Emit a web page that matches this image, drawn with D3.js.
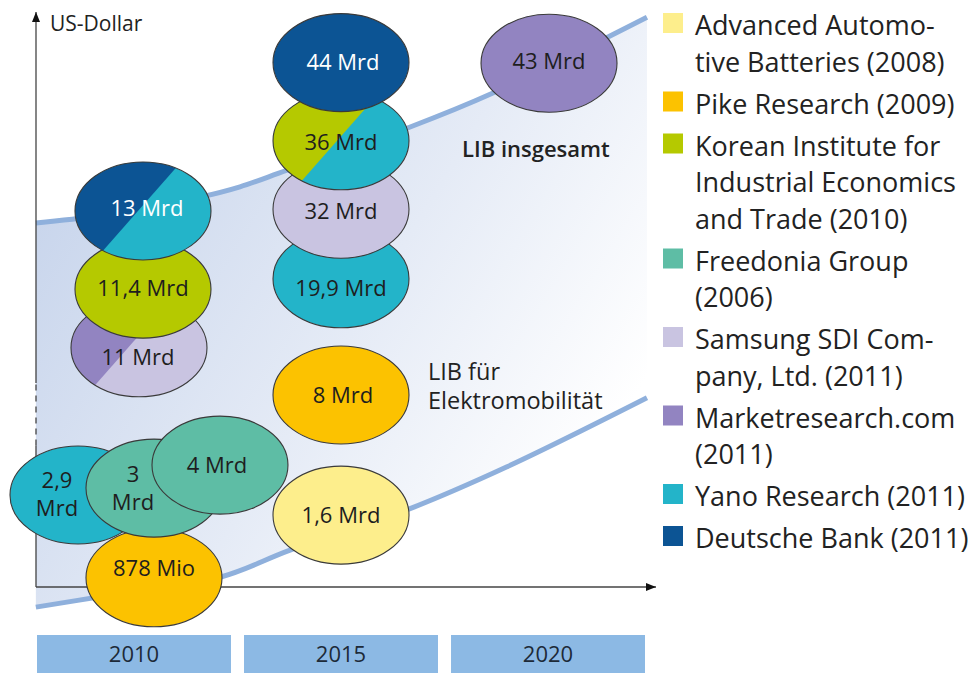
<!DOCTYPE html>
<html>
<head>
<meta charset="utf-8">
<script src="https://cdn.jsdelivr.net/npm/d3@7"></script>
<style>
  body { margin: 0; background: #fff; }
  svg { display: block; font-family: "Open Sans", sans-serif; }
</style>
</head>
<body>
<svg id="chart"></svg>
<script>
// Years along the time axis
var years = [2010, 2015, 2020];

// Forecast sources, in legend order
var sourceKeys = ["aab", "pike", "kiet", "freedonia", "samsung", "market", "yano", "db"];
var sourceLabels = [
  ["Advanced Automo-", "tive Batteries (2008)"],
  ["Pike Research (2009)"],
  ["Korean Institute for", "Industrial Economics", "and Trade (2010)"],
  ["Freedonia Group", "(2006)"],
  ["Samsung SDI Com-", "pany, Ltd. (2011)"],
  ["Marketresearch.com", "(2011)"],
  ["Yano Research (2011)"],
  ["Deutsche Bank (2011)"]
];
var sourceColors = ["#fdee8c", "#fcc200", "#b5c900", "#5ebda5", "#c9c4e1", "#9284c1", "#23b4c9", "#0c5494"];

// Market estimates per year (drawn bottom to top)
var estimates = [
  { year: 2010, label: ["878 Mio"], sources: ["pike"] },
  { year: 2010, label: ["2,9", "Mrd"], sources: ["yano"] },
  { year: 2010, label: ["3", "Mrd"], sources: ["freedonia"] },
  { year: 2010, label: ["4 Mrd"], sources: ["freedonia"] },
  { year: 2010, label: ["11 Mrd"], sources: ["market", "samsung"] },
  { year: 2010, label: ["11,4 Mrd"], sources: ["kiet"] },
  { year: 2010, label: ["13 Mrd"], sources: ["db", "yano"] },
  { year: 2015, label: ["1,6 Mrd"], sources: ["aab"] },
  { year: 2015, label: ["8 Mrd"], sources: ["pike"] },
  { year: 2015, label: ["19,9 Mrd"], sources: ["yano"] },
  { year: 2015, label: ["32 Mrd"], sources: ["samsung"] },
  { year: 2015, label: ["36 Mrd"], sources: ["kiet", "yano"] },
  { year: 2015, label: ["44 Mrd"], sources: ["db"] },
  { year: 2020, label: ["43 Mrd"], sources: ["market"] }
];

// Placement of each estimate: shift from year centre, height level (0-100),
// label nudge and where the colour split runs
var placement = [
  { dx: 20, level: 1.6, tx: 0, ty: -10 },
  { dx: -56, level: 16.0, tx: -21, ty: -1 },
  { dx: 20, level: 17.2, tx: -21, ty: 0 },
  { dx: 86, level: 21.2, tx: -3, ty: 0 },
  { dx: 5, level: 41.6, tx: -1, ty: 9, split: -11 },
  { dx: 9, level: 51.8, tx: 0, ty: -1 },
  { dx: 9, level: 65.4, tx: 4, ty: -3, split: -5 },
  { dx: 0, level: 12.5, tx: 0, ty: 0 },
  { dx: 0, level: 33.4, tx: 2, ty: 0 },
  { dx: 0, level: 53.6, tx: 0, ty: 9 },
  { dx: 0, level: 65.7, tx: 0, ty: 2 },
  { dx: 0, level: 77.6, tx: 0, ty: 1, split: -4 },
  { dx: 0, level: 91.2, tx: 2, ty: -1 },
  { dx: 1, level: 91.1, tx: 0, ty: -2 }
];

// Illustrative trend curves [year, level]
var totalCurve = [[2007.63, 63.3], [2009.18, 64.6], [2011.59, 67.8], [2012.56, 69.6],
                  [2013.70, 72.5], [2016.67, 80.0], [2018.67, 85.9], [2022.39, 99.1]];
var emobCurve = [[2007.63, -3.5], [2009.18, -1.7], [2012.08, 1.7], [2013.77, 6.4],
                 [2016.59, 13.4], [2019.01, 20.9], [2022.39, 32.9]];

// Dashed stretch of the value axis (levels)
var axisBreak = [24.6, 35.5];

var width = 975, height = 673;
var rx = 68, ry = 49;

var svg = d3.select("#chart")
    .attr("width", width)
    .attr("height", height);

var band = d3.scaleBand()
    .domain(years)
    .range([37, 645])
    .paddingInner(0.063);

var x = d3.scaleLinear()
    .domain([2010, 2020])
    .range([band(2010) + band.bandwidth() / 2, band(2020) + band.bandwidth() / 2]);

var y = d3.scaleLinear()
    .domain([0, 100])
    .range([587, 12]);

var color = d3.scaleOrdinal()
    .domain(sourceKeys)
    .range(sourceColors);

var defs = svg.append("defs");

var grad = defs.append("linearGradient")
    .attr("id", "lib-fill")
    .attr("gradientUnits", "userSpaceOnUse")
    .attr("x1", 36).attr("y1", 200)
    .attr("x2", 560).attr("y2", 520);
grad.append("stop").attr("offset", 0).attr("stop-color", "#c8d5ec");
grad.append("stop").attr("offset", 0.55).attr("stop-color", "#e5ebf6");
grad.append("stop").attr("offset", 1).attr("stop-color", "#ffffff");

defs.append("marker")
    .attr("id", "arrow")
    .attr("viewBox", "0 0 10 8")
    .attr("refX", 10).attr("refY", 4)
    .attr("markerWidth", 10).attr("markerHeight", 8)
    .attr("markerUnits", "userSpaceOnUse")
    .attr("orient", "auto")
  .append("path")
    .attr("d", "M0,0L10,4L0,8Z")
    .attr("fill", "#111");

// Band between the two trend curves
var line = d3.line()
    .x(d => x(d[0]))
    .y(d => y(d[1]))
    .curve(d3.curveCatmullRom);

var upperPath = line(totalCurve);
var lowerPath = line(emobCurve.slice().reverse());

svg.append("path")
    .attr("d", upperPath + "L" + lowerPath.slice(1) + "Z")
    .attr("fill", "url(#lib-fill)");

svg.selectAll(".trend")
    .data([totalCurve, emobCurve])
  .enter().append("path")
    .classed("trend", true)
    .attr("d", line)
    .attr("fill", "none")
    .attr("stroke", "#8fb0dc")
    .attr("stroke-width", 5);

// Axes
var x0 = 36;
var axis = svg.append("g")
    .attr("stroke", "#444")
    .attr("stroke-width", 1.3);

axis.append("line")
    .attr("x1", x0).attr("x2", x0)
    .attr("y1", y(0)).attr("y2", y(axisBreak[0]));
axis.append("line")
    .attr("x1", x0).attr("x2", x0)
    .attr("y1", y(axisBreak[0])).attr("y2", y(axisBreak[1]))
    .attr("stroke-dasharray", "6,5");
axis.append("line")
    .attr("x1", x0).attr("x2", x0)
    .attr("y1", y(axisBreak[1])).attr("y2", y(100))
    .attr("marker-end", "url(#arrow)");
axis.append("line")
    .attr("x1", x0).attr("x2", 656)
    .attr("y1", y(0)).attr("y2", y(0))
    .attr("marker-end", "url(#arrow)");

svg.append("text")
    .attr("x", 50)
    .attr("y", 31)
    .attr("font-size", 21)
    .attr("fill", "#222")
    .text("US-Dollar");

// Curve captions
svg.append("text")
    .attr("x", 462)
    .attr("y", 157)
    .attr("font-size", 22)
    .attr("font-weight", 600)
    .attr("fill", "#222")
    .text("LIB insgesamt");

svg.selectAll(".caption")
    .data(["LIB für", "Elektromobilität"])
  .enter().append("text")
    .classed("caption", true)
    .attr("x", 428)
    .attr("y", (d, i) => 380 + i * 29)
    .attr("font-size", 23.5)
    .attr("fill", "#222")
    .text(d => d);

// Year bars
var bars = svg.selectAll(".year")
    .data(years)
  .enter().append("g")
    .classed("year", true);

bars.append("rect")
    .attr("x", d => band(d))
    .attr("y", 635)
    .attr("width", band.bandwidth())
    .attr("height", height - 635)
    .attr("fill", "#8cb9e4");

bars.append("text")
    .attr("x", d => band(d) + band.bandwidth() / 2)
    .attr("y", 662)
    .attr("text-anchor", "middle")
    .attr("font-size", 22)
    .attr("fill", "#1d2a38")
    .text(d => d);

// Estimate ellipses
var dir = [0.66, -0.75], nrm = [-0.75, -0.66];

estimates.forEach(function(d, i) {
  var p = placement[i];
  var cx = x(d.year) + p.dx;
  var cy = y(p.level);
  var g = svg.append("g");

  if (d.sources.length > 1) {
    defs.append("clipPath")
        .attr("id", "clip-" + i)
      .append("ellipse")
        .attr("cx", cx).attr("cy", cy)
        .attr("rx", rx).attr("ry", ry);

    g.append("ellipse")
        .attr("cx", cx).attr("cy", cy)
        .attr("rx", rx).attr("ry", ry)
        .attr("fill", color(d.sources[1]));

    var ox = cx + (p.split || 0), L = 200;
    var pts = [
      [ox - L * dir[0], cy - L * dir[1]],
      [ox + L * dir[0], cy + L * dir[1]],
      [ox + L * dir[0] + L * nrm[0], cy + L * dir[1] + L * nrm[1]],
      [ox - L * dir[0] + L * nrm[0], cy - L * dir[1] + L * nrm[1]]
    ];
    g.append("polygon")
        .attr("points", pts.map(q => q.join(",")).join(" "))
        .attr("fill", color(d.sources[0]))
        .attr("clip-path", "url(#clip-" + i + ")");
  } else {
    g.append("ellipse")
        .attr("cx", cx).attr("cy", cy)
        .attr("rx", rx).attr("ry", ry)
        .attr("fill", color(d.sources[0]));
  }

  g.append("ellipse")
      .attr("cx", cx).attr("cy", cy)
      .attr("rx", rx).attr("ry", ry)
      .attr("fill", "none")
      .attr("stroke", "#3a3a3a")
      .attr("stroke-width", 1.1);

  var lh = 28;
  var first = cy + p.ty - (d.label.length - 1) * lh / 2 + 8;
  g.append("text")
      .attr("text-anchor", "middle")
      .attr("font-size", 22)
      .attr("fill", d.sources[0] === "db" ? "#fff" : "#1e1e1e")
    .selectAll("tspan")
      .data(d.label)
    .enter().append("tspan")
      .attr("x", cx + p.tx)
      .attr("y", (t, j) => first + j * lh)
      .text(t => t);
});

// Legend
var legend = svg.append("g");
var base = 35;
sourceKeys.forEach(function(k, i) {
  legend.append("rect")
      .attr("x", 663)
      .attr("y", base - 22)
      .attr("width", 20)
      .attr("height", 20)
      .attr("fill", color(k));

  legend.append("text")
      .attr("font-size", 27)
      .attr("fill", "#222")
    .selectAll("tspan")
      .data(sourceLabels[i])
    .enter().append("tspan")
      .attr("x", 695)
      .attr("y", (t, j) => base + j * 36.5)
      .text(t => t);

  base += (sourceLabels[i].length - 1) * 36.5 + 42;
});
</script>
</body>
</html>
